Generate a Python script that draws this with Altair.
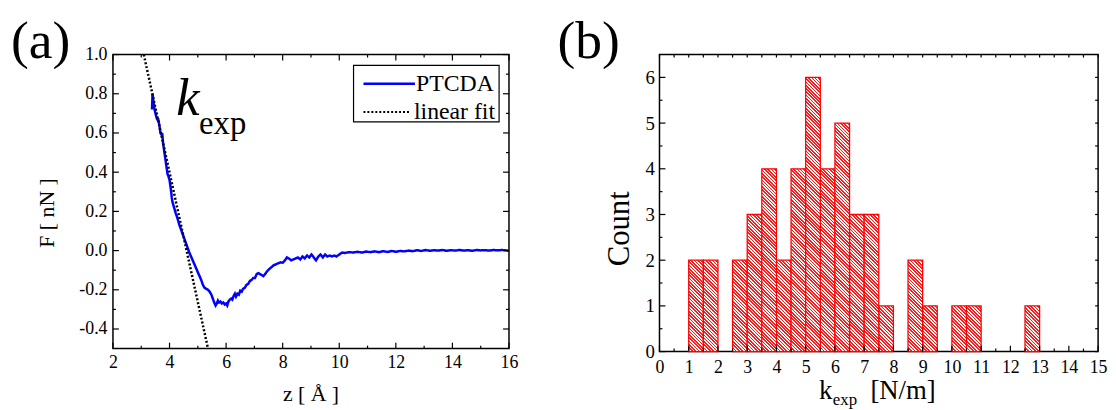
import math
import altair as alt
import pandas as pd

FONT = "Liberation Serif"

# ---------------- panel (a): force curve ----------------
z_ptcda = [
    3.38, 3.40, 3.43, 3.47, 3.52, 3.56, 3.60, 3.64, 3.68, 3.72,
    3.74, 3.77, 3.81, 3.85, 3.89, 3.93, 3.96, 4.00, 4.04, 4.08,
    4.10, 4.14, 4.18, 4.22, 4.27, 4.31, 4.35, 4.40, 4.45, 4.50,
    4.55, 4.60, 4.65, 4.70, 4.76, 4.82, 4.88, 4.94, 5.00, 5.06,
    5.12, 5.18, 5.24, 5.30, 5.36, 5.42, 5.48, 5.53, 5.58, 5.63,
    5.67, 5.71, 5.75, 5.80, 5.85, 5.90, 5.95, 6.00, 6.04, 6.08,
    6.13, 6.18, 6.22, 6.27, 6.31, 6.35, 6.40, 6.45, 6.50, 6.55,
    6.60, 6.66, 6.72, 6.78, 6.84, 6.90, 6.96, 7.02, 7.08, 7.14,
    7.20, 7.26, 7.32, 7.38, 7.45, 7.52, 7.60, 7.68, 7.76, 7.84,
    7.92, 8.00, 8.08, 8.15, 8.22, 8.30, 8.38, 8.46, 8.54, 8.62,
    8.70, 8.78, 8.86, 8.94, 9.02, 9.10, 9.18, 9.26, 9.34, 9.42,
    9.50, 9.58, 9.66, 9.74, 9.82, 9.90, 10.00, 10.10, 10.20, 10.35,
    10.50, 10.65, 10.80, 10.95, 11.10, 11.25, 11.40, 11.55, 11.70, 11.85,
    12.00, 12.15, 12.30, 12.45, 12.60, 12.75, 12.90, 13.05, 13.20, 13.35,
    13.50, 13.65, 13.80, 13.95, 14.10, 14.25, 14.40, 14.55, 14.70, 14.85,
    15.00, 15.15, 15.30, 15.45, 15.60, 15.75, 15.90, 16.00,
]
f_ptcda = [
    0.72, 0.80, 0.76, 0.72, 0.69, 0.67, 0.67, 0.64, 0.60, 0.59,
    0.60, 0.55, 0.51, 0.47, 0.43, 0.39, 0.38, 0.36, 0.32, 0.27,
    0.25, 0.23, 0.21, 0.19, 0.17, 0.15, 0.13, 0.11, 0.09, 0.07,
    0.05, 0.03, 0.01, -0.01, -0.03, -0.05, -0.07, -0.09, -0.11, -0.13,
    -0.15, -0.175, -0.19, -0.195, -0.20, -0.21, -0.225, -0.245, -0.265, -0.28,
    -0.27, -0.255, -0.265, -0.26, -0.27, -0.265, -0.275, -0.27, -0.28, -0.26,
    -0.25, -0.245, -0.25, -0.23, -0.22, -0.235, -0.22, -0.225, -0.205, -0.21,
    -0.195, -0.19, -0.175, -0.17, -0.155, -0.15, -0.14, -0.14, -0.12, -0.115,
    -0.12, -0.125, -0.13, -0.12, -0.105, -0.095, -0.085, -0.075, -0.07, -0.065,
    -0.06, -0.062, -0.05, -0.035, -0.04, -0.05, -0.045, -0.04, -0.035, -0.045,
    -0.03, -0.04, -0.025, -0.035, -0.02, -0.035, -0.05, -0.03, -0.02, -0.035,
    -0.02, -0.03, -0.025, -0.03, -0.025, -0.03, -0.02, -0.01, -0.012, -0.008,
    -0.01, -0.006, -0.01, -0.005, -0.008, -0.004, -0.008, -0.003, -0.007, -0.002,
    -0.006, -0.002, -0.004, 0.0, -0.003, 0.002, -0.002, 0.003, -0.001, 0.002,
    0.0, 0.003, -0.001, 0.002, 0.0, 0.003, 0.0, 0.002, -0.001, 0.003,
    0.001, 0.002, 0.0, 0.003, 0.001, 0.003, 0.001, -0.002,
]
z_fit = [3.09, 5.36]
f_fit = [1.0, -0.5]
series_names = ["PTCDA", "linear fit"]

x_major_a = [2, 4, 6, 8, 10, 12, 14, 16]
x_minor_a = [3, 5, 7, 9, 11, 13, 15]
y_major_a = [-0.4, -0.2, 0.0, 0.2, 0.4, 0.6, 0.8, 1.0]
y_minor_a = [-0.3, -0.1, 0.1, 0.3, 0.5, 0.7, 0.9]

# ---------------- panel (b): histogram ----------------
bin_start = [1.0, 1.5, 2.5, 3.0, 3.5, 4.0, 4.5, 5.0, 5.5, 6.0, 6.5, 7.0, 7.5, 8.5, 9.0, 10.0, 10.5, 12.5]
bin_count = [2, 2, 2, 3, 4, 2, 4, 6, 4, 5, 3, 3, 1, 2, 1, 1, 1, 1]
bin_width = 0.5

x_major_b = [0, 1, 2, 3, 4, 5, 6, 7, 8, 9, 10, 11, 12, 13, 14, 15]
x_minor_b = [0.5, 1.5, 2.5, 3.5, 4.5, 5.5, 6.5, 7.5, 8.5, 9.5, 10.5, 11.5, 12.5, 13.5, 14.5]
y_major_b = [0, 1, 2, 3, 4, 5, 6]
y_minor_b = [0.5, 1.5, 2.5, 3.5, 4.5, 5.5]

# ---------------- layout constants ----------------
WA, HA = 400, 297
WB, HB = 443, 300
X_DOM_A, Y_DOM_A = [2, 16], [-0.5, 1.0]
X_DOM_B, Y_DOM_B = [0, 15], [0, 6.5]


def tick_layer(values, side, length, W, H, xs=None, ys=None, xax=None, yax=None, width=1.2):
    base = alt.Chart(pd.DataFrame({"v": values})).mark_rule(color="black", strokeWidth=width)
    if side == "bottom":
        enc = dict(x=alt.X("v:Q", scale=xs, axis=xax), y=alt.value(H), y2=alt.value(H - length))
    elif side == "top":
        enc = dict(x=alt.X("v:Q", scale=xs, axis=xax), y=alt.value(0), y2=alt.value(length))
    elif side == "left":
        enc = dict(y=alt.Y("v:Q", scale=ys, axis=yax), x=alt.value(0), x2=alt.value(length))
    else:
        enc = dict(y=alt.Y("v:Q", scale=ys, axis=yax), x=alt.value(W), x2=alt.value(W - length))
    return base.encode(**enc)


def text_mark(txt, x, y, size, align="left", baseline="alphabetic", angle=0, style="normal"):
    return alt.Chart(pd.DataFrame({"t": [txt]})).mark_text(
        font=FONT, fontSize=size, fontStyle=style, align=align, baseline=baseline,
        angle=angle, color="black",
    ).encode(text="t:N", x=alt.value(x), y=alt.value(y))


def hatch(w, h, spacing=2.35, frac=0.5, c1="#ff1a1a", c2="#ffffff"):
    L = (w + h) / math.sqrt(2)
    n = max(1, round(L / spacing))
    stops = []
    for i in range(n):
        a = i / n
        b = (i + frac) / n
        c = (i + 1) / n
        stops += [
            alt.GradientStop(offset=a, color=c1),
            alt.GradientStop(offset=b, color=c1),
            alt.GradientStop(offset=b, color=c2),
            alt.GradientStop(offset=c, color=c2),
        ]
    t = (w + h) / (w * w + h * h)
    return alt.LinearGradient(gradient="linear", stops=stops, x1=0, y1=1, x2=t * w, y2=1 - t * h)


def make_axis(values, size, pad, label_expr):
    return alt.Axis(values=values, title=None, ticks=False, tickSize=0, domain=False, grid=False,
                    labelFont=FONT, labelFontSize=size, labelColor="black", labelPadding=pad,
                    labelFlush=False, labelOverlap=False, labelExpr=label_expr)


# ================= panel (a) =================
xs_a = alt.Scale(domain=X_DOM_A, nice=False, zero=False)
ys_a = alt.Scale(domain=Y_DOM_A, nice=False, zero=False)
xax_a = make_axis(x_major_a, 18, 5, "format(datum.value, 'd')")
yax_a = make_axis(y_major_a, 18, 6, "replace(format(datum.value, '.1f'), '\u2212', '-')")

df_a = pd.DataFrame({
    "z": z_ptcda + z_fit,
    "F": f_ptcda + f_fit,
    "series": [series_names[0]] * len(z_ptcda) + [series_names[1]] * len(z_fit),
    "idx": list(range(len(z_ptcda) + len(z_fit))),
})

line_a = alt.Chart(df_a).mark_line(strokeWidth=2.5, clip=True).encode(
    x=alt.X("z:Q", scale=xs_a, axis=xax_a),
    y=alt.Y("F:Q", scale=ys_a, axis=yax_a),
    color=alt.Color("series:N", scale=alt.Scale(domain=series_names, range=["#0000ff", "#000000"]), legend=None),
    strokeDash=alt.StrokeDash("series:N", scale=alt.Scale(domain=series_names, range=[[1, 0], [2, 2]]), legend=None),
    order="idx:Q",
)

ticks_a = [
    tick_layer(x_major_a, "bottom", 6, WA, HA, xs=xs_a, xax=xax_a),
    tick_layer(x_minor_a, "bottom", 3, WA, HA, xs=xs_a, xax=xax_a),
    tick_layer(x_major_a, "top", 6, WA, HA, xs=xs_a, xax=xax_a),
    tick_layer(x_minor_a, "top", 3, WA, HA, xs=xs_a, xax=xax_a),
    tick_layer(y_major_a, "left", 6, WA, HA, ys=ys_a, yax=yax_a),
    tick_layer(y_minor_a, "left", 3, WA, HA, ys=ys_a, yax=yax_a),
    tick_layer(y_major_a, "right", 6, WA, HA, ys=ys_a, yax=yax_a),
    tick_layer(y_minor_a, "right", 3, WA, HA, ys=ys_a, yax=yax_a),
]

one = pd.DataFrame({"a": [0]})
legend_box = alt.Chart(one).mark_rect(fill="white", stroke="black", strokeWidth=1.2).encode(
    x=alt.value(243), x2=alt.value(390), y=alt.value(11), y2=alt.value(68))
legend_l1 = alt.Chart(one).mark_rule(color="#0000ff", strokeWidth=2.5).encode(
    x=alt.value(253), x2=alt.value(305), y=alt.value(29.5))
legend_l2 = alt.Chart(one).mark_rule(color="black", strokeWidth=2, strokeDash=[2, 2]).encode(
    x=alt.value(253), x2=alt.value(300), y=alt.value(58))
legend_t1 = text_mark(series_names[0], 306, 30, 24, baseline="middle")
legend_t2 = text_mark(series_names[1], 304, 58, 24, baseline="middle")

texts_a = [
    text_mark("(a)", -103, 3, 54),
    text_mark("k", 64, 61, 53, style="italic"),
    text_mark("exp", 87, 80, 33),
    text_mark("F [ nN ]", -60, 160, 22, align="center", angle=270),
    text_mark("z [ Å ]", WA / 2, 350, 22, align="center"),
]

panel_a = alt.layer(
    line_a, *ticks_a, legend_box, legend_l1, legend_l2, legend_t1, legend_t2, *texts_a
).properties(width=WA, height=HA)

# ================= panel (b) =================
xs_b = alt.Scale(domain=X_DOM_B, nice=False, zero=False)
ys_b = alt.Scale(domain=Y_DOM_B, nice=False, zero=True)
xax_b = make_axis(x_major_b, 18, 7, "format(datum.value, 'd')")
yax_b = make_axis(y_major_b, 19, 5, "format(datum.value, 'd')")

df_b = pd.DataFrame({
    "start": bin_start,
    "end": [s + bin_width for s in bin_start],
    "n": bin_count,
})

bar_w_px = WB / (X_DOM_B[1] - X_DOM_B[0]) * bin_width
unit_h_px = HB / (Y_DOM_B[1] - Y_DOM_B[0])

bar_layers = []
for k in sorted(set(bin_count)):
    bar_layers.append(
        alt.Chart(df_b).transform_filter(alt.datum.n == k).mark_rect(
            fill=hatch(bar_w_px, k * unit_h_px), stroke="#ff0000", strokeWidth=1.3,
        ).encode(
            x=alt.X("start:Q", scale=xs_b, axis=xax_b),
            x2="end:Q",
            y=alt.Y("n:Q", scale=ys_b, axis=yax_b),
            y2=alt.datum(0),
        )
    )

ticks_b = [
    tick_layer(x_major_b, "bottom", 6, WB, HB, xs=xs_b, xax=xax_b),
    tick_layer(x_minor_b, "bottom", 3, WB, HB, xs=xs_b, xax=xax_b),
    tick_layer(x_major_b + x_minor_b, "top", 3, WB, HB, xs=xs_b, xax=xax_b),
    tick_layer(y_major_b, "left", 6, WB, HB, ys=ys_b, yax=yax_b),
    tick_layer(y_minor_b, "left", 3, WB, HB, ys=ys_b, yax=yax_b),
    tick_layer(y_major_b + y_minor_b, "right", 3, WB, HB, ys=ys_b, yax=yax_b),
]

texts_b = [
    text_mark("(b)", -103, 3, 54),
    text_mark("Count", -31, 176, 31, align="center", angle=270),
    text_mark("k", 161, 348, 27),
    text_mark("exp", 175, 354, 17),
    text_mark("[N/m]", 213, 348, 27),
]

panel_b = alt.layer(*bar_layers, *ticks_b, *texts_b).properties(width=WB, height=HB)

chart = alt.hconcat(panel_a, panel_b, spacing=152, bounds="flush").properties(
    padding={"left": 2, "top": 4, "right": 0, "bottom": 0},
    background="white",
).configure_view(
    stroke="black", strokeWidth=1.5
).configure_axis(
    labelFont=FONT, labelColor="black"
)

chart.save("out.html", embed_options={"renderer": "svg", "actions": False})
